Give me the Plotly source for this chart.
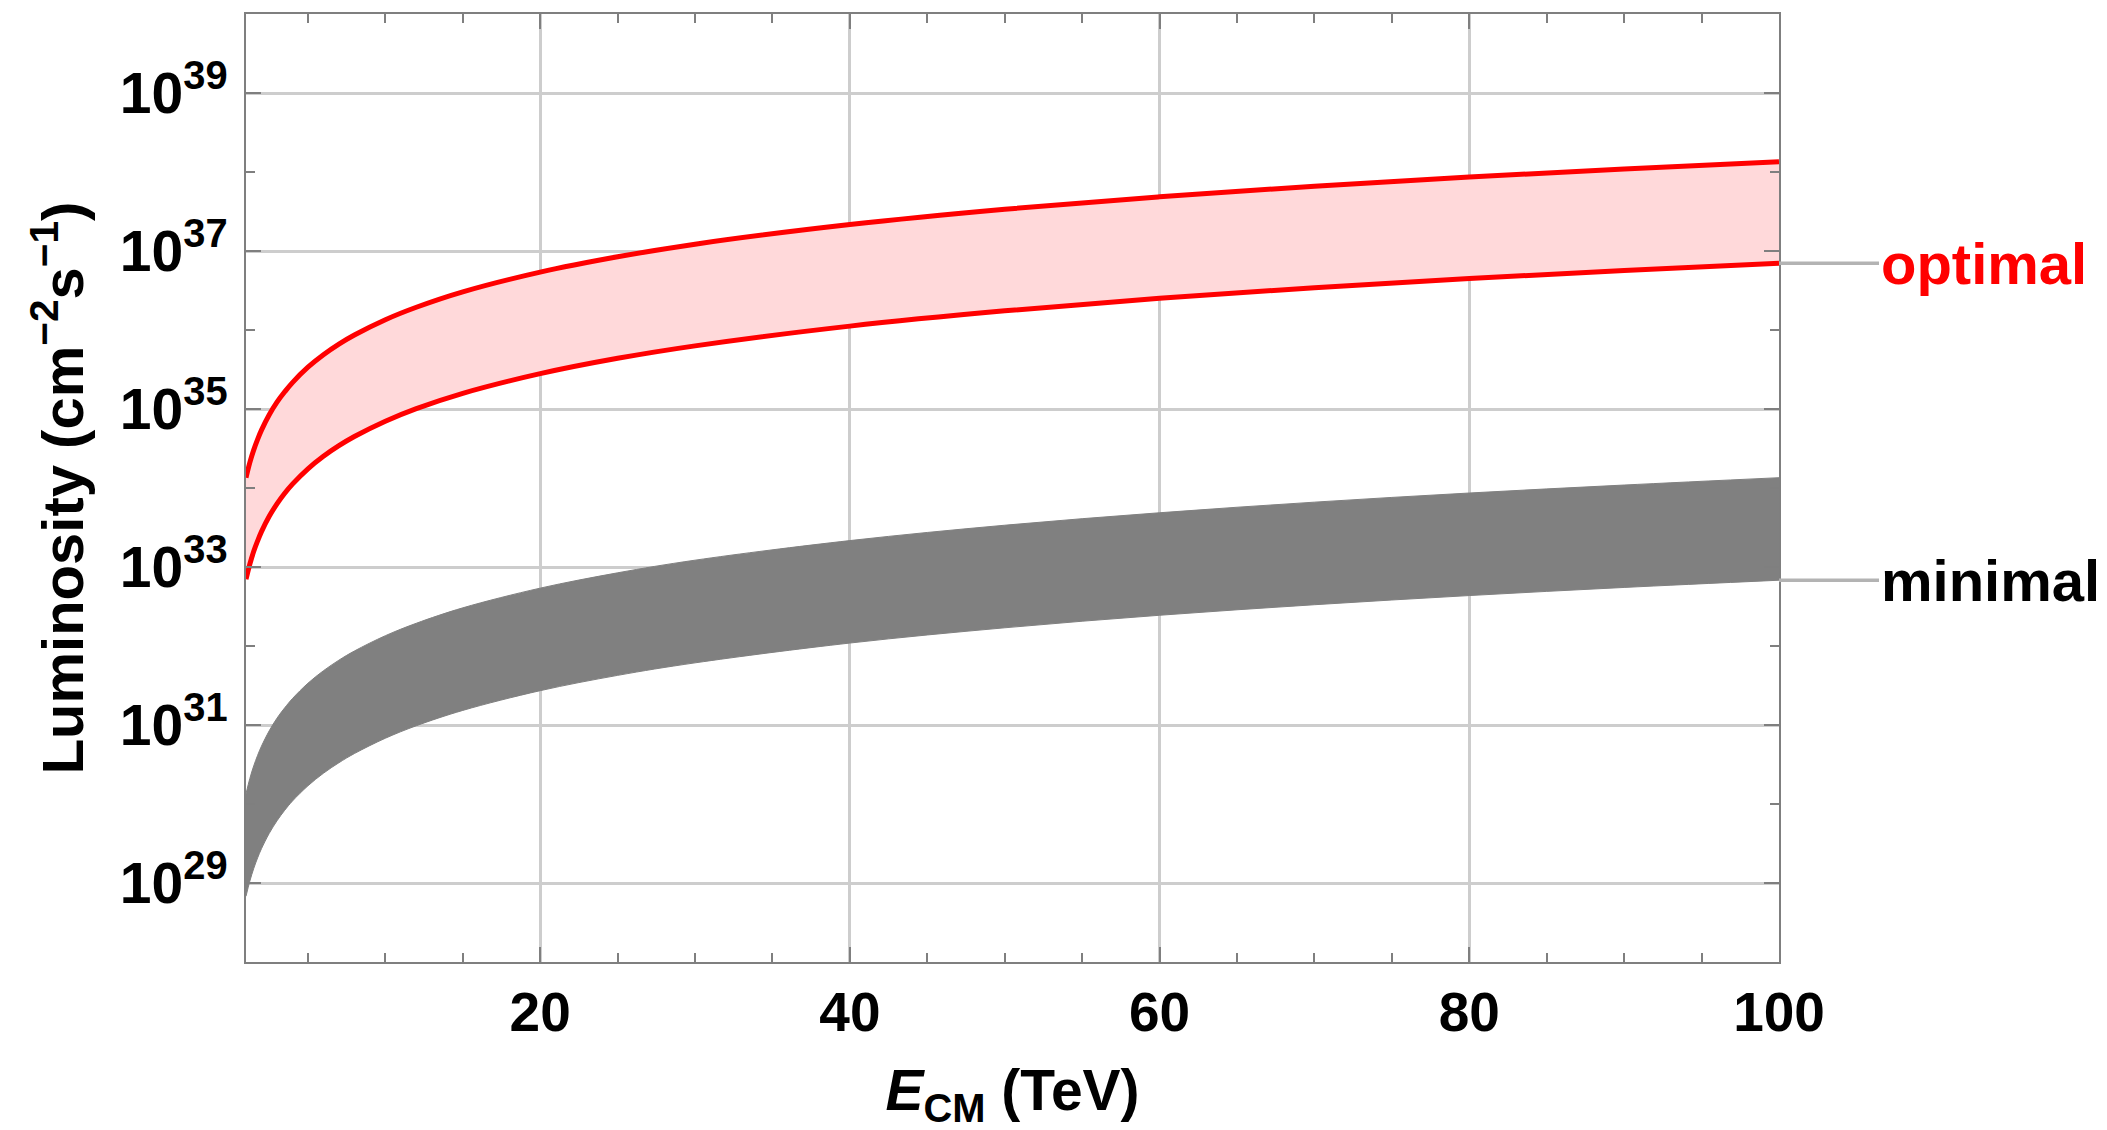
import numpy as np
import plotly.graph_objects as go

# Centre-of-mass energy (TeV)
energy = [1, 1.25, 1.5, 1.75, 2, 2.5, 3, 3.5, 4, 5, 6, 7, 8, 10, 12, 15, 20, 25, 30,
          40, 50, 60, 70, 80, 90, 100]

# Optimal luminosity band (cm^-2 s^-1)
optimal_high = [1.35e34, 2.11e34, 3.04e34, 4.13e34, 5.4e34, 8.44e34, 1.22e35, 1.65e35,
                2.16e35, 3.38e35, 4.86e35, 6.62e35, 8.64e35, 1.35e36, 1.94e36, 3.04e36,
                5.4e36, 8.44e36, 1.22e37, 2.16e37, 3.38e37, 4.86e37, 6.62e37, 8.64e37,
                1.09e38, 1.35e38]
optimal_low = [7.0e32, 1.09e33, 1.58e33, 2.14e33, 2.8e33, 4.38e33, 6.3e33, 8.58e33,
               1.12e34, 1.75e34, 2.52e34, 3.43e34, 4.48e34, 7.0e34, 1.01e35, 1.58e35,
               2.8e35, 4.38e35, 6.3e35, 1.12e36, 1.75e36, 2.52e36, 3.43e36, 4.48e36,
               5.67e36, 7.0e36]

# Minimal luminosity band (cm^-2 s^-1)
minimal_high = [1.35e30, 2.11e30, 3.04e30, 4.13e30, 5.4e30, 8.44e30, 1.22e31, 1.65e31,
                2.16e31, 3.38e31, 4.86e31, 6.62e31, 8.64e31, 1.35e32, 1.94e32, 3.04e32,
                5.4e32, 8.44e32, 1.22e33, 2.16e33, 3.38e33, 4.86e33, 6.62e33, 8.64e33,
                1.09e34, 1.35e34]
minimal_low = [6.8e28, 1.06e29, 1.53e29, 2.08e29, 2.72e29, 4.25e29, 6.12e29, 8.33e29,
               1.09e30, 1.7e30, 2.45e30, 3.33e30, 4.35e30, 6.8e30, 9.79e30, 1.53e31,
               2.72e31, 4.25e31, 6.12e31, 1.09e32, 1.7e32, 2.45e32, 3.33e32, 4.35e32,
               5.51e32, 6.8e32]

x_ticks = [20, 40, 60, 80, 100]
y_major_exp = [29, 31, 33, 35, 37, 39]
y_minor_exp = [30, 32, 34, 36, 38]

FONT = "Liberation Sans"
FRAME = "#7f7f7f"
GRID = "#cdcdcd"
GRAY = "#808080"
RED = "#ff0000"

fig = go.Figure()

# Minimal band: solid gray
fig.add_trace(go.Scatter(x=energy, y=minimal_low, mode="lines",
                         line=dict(color=GRAY, width=1, shape="spline", smoothing=1),
                         showlegend=False, hoverinfo="skip"))
fig.add_trace(go.Scatter(x=energy, y=minimal_high, mode="lines",
                         line=dict(color=GRAY, width=1, shape="spline", smoothing=1),
                         fill="tonexty", fillcolor=GRAY,
                         showlegend=False, hoverinfo="skip"))

# Optimal band: pink fill with red edges
fig.add_trace(go.Scatter(x=energy, y=optimal_low, mode="lines",
                         line=dict(color=RED, width=5, shape="spline", smoothing=1),
                         showlegend=False, hoverinfo="skip"))
fig.add_trace(go.Scatter(x=energy, y=optimal_high, mode="lines",
                         line=dict(color=RED, width=5, shape="spline", smoothing=1),
                         fill="tonexty", fillcolor="#ffd9da",
                         showlegend=False, hoverinfo="skip"))

# Band labels with leader lines
for label, yval, col in [("optimal", optimal_low[-1], RED),
                         ("minimal", minimal_low[-1], "#000000")]:
    fig.add_annotation(x=1, xref="paper", y=float(np.log10(yval)), yref="y",
                       ax=100, ay=0, axref="pixel", ayref="pixel",
                       xanchor="left", yanchor="middle",
                       text=label, showarrow=True, arrowhead=0,
                       arrowwidth=3.5, arrowcolor="#b3b3b3", standoff=0,
                       font=dict(family=FONT, size=58, color=col, weight="bold"))

fig.update_xaxes(
    type="linear", range=[1, 100],
    tickvals=x_ticks, ticktext=[str(v) for v in x_ticks],
    ticks="inside", ticklen=15, tickwidth=2, tickcolor=FRAME,
    showline=True, linecolor=FRAME, linewidth=2, mirror="ticks",
    showgrid=True, gridcolor=GRID, gridwidth=2.5,
    zeroline=False,
    minor=dict(dtick=5, tick0=0, ticks="inside", ticklen=9, tickwidth=1.5,
               tickcolor=FRAME, showgrid=False),
    tickfont=dict(family=FONT, size=55, color="#000000", weight="bold"),
    ticklabelstandoff=1,
    title=dict(text="<i>E</i><sub>CM</sub> (TeV)", standoff=56,
               font=dict(family=FONT, size=57, color="#000000", weight="bold")),
)

fig.update_yaxes(
    type="log", range=[28, 40],
    tickvals=[10.0 ** e for e in y_major_exp],
    ticktext=[f"10<sup>{e}</sup>" for e in y_major_exp],
    ticks="inside", ticklen=15, tickwidth=2, tickcolor=FRAME,
    showline=True, linecolor=FRAME, linewidth=2, mirror="ticks",
    showgrid=True, gridcolor=GRID, gridwidth=2.5,
    zeroline=False,
    minor=dict(tickvals=[10.0 ** e for e in y_minor_exp], ticks="inside",
               ticklen=9, tickwidth=1.5, tickcolor=FRAME, showgrid=False),
    tickfont=dict(family=FONT, size=57, color="#000000", weight="bold"),
    ticklabelstandoff=5,
    title=dict(text="Luminosity (cm<sup>−2</sup>s<sup>−1</sup>)", standoff=18,
               font=dict(family=FONT, size=58, color="#000000", weight="bold")),
)

fig.update_layout(
    width=2107, height=1130,
    margin=dict(l=246, r=328, t=14, b=168, autoexpand=False),
    paper_bgcolor="white", plot_bgcolor="white",
    showlegend=False,
)

fig.write_html("out.html")
